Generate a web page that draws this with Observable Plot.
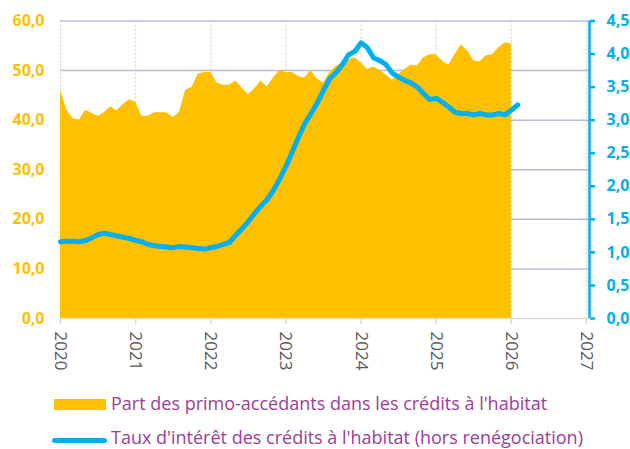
<!DOCTYPE html>
<html>
<head>
<meta charset="utf-8">
<script src="https://cdn.jsdelivr.net/npm/d3@7"></script>
<script src="https://cdn.jsdelivr.net/npm/@observablehq/plot@0.6"></script>
<style>
  body { margin: 0; background: #fff; font-family: "Open Sans", sans-serif; }
  #wrap { position: relative; width: 630px; height: 449px; overflow: hidden; }
  .leg { position: absolute; left: 111px; color: #9C3D9C; font-size: 18px; white-space: nowrap; line-height: 1; }
  .sw { position: absolute; }
</style>
</head>
<body>
<div id="wrap"></div>
<script>
// Monthly series starting January 2020
const startYear = 2020;
// Part des primo-accédants (%), left axis
const primoShare = [
  46.1, 42.1, 40.3, 40.0, 42.0, 41.4, 40.8, 41.5, 42.7, 41.9, 43.1, 44.1,
  43.6, 40.8, 40.8, 41.5, 41.5, 41.5, 40.5, 41.6, 46.1, 46.6, 49.3, 49.6,
  49.6, 47.5, 47.0, 47.1, 47.9, 46.5, 45.2, 46.3, 47.9, 46.7, 48.5, 50.0,
  49.6, 49.6, 48.8, 48.5, 50.0, 48.3, 47.5, 49.6, 50.8, 51.5, 52.2, 52.6,
  51.6, 50.2, 50.7, 50.0, 49.1, 48.0, 49.2, 50.2, 51.1, 50.9, 52.6, 53.2,
  53.2, 51.9, 51.1, 53.2, 55.2, 54.0, 52.0, 51.8, 53.0, 53.2, 54.6, 55.6,
  55.4
];
// Taux d'intérêt (%), right axis
const interestRate = [
  1.16, 1.17, 1.17, 1.16, 1.18, 1.22, 1.27, 1.29, 1.27, 1.25, 1.23, 1.21,
  1.18, 1.16, 1.12, 1.10, 1.09, 1.08, 1.07, 1.09, 1.08, 1.07, 1.06, 1.05,
  1.07, 1.09, 1.12, 1.15, 1.26, 1.36, 1.47, 1.59, 1.70, 1.80, 1.94, 2.11,
  2.30, 2.52, 2.74, 2.95, 3.10, 3.26, 3.45, 3.63, 3.72, 3.84, 3.99, 4.04,
  4.17, 4.10, 3.94, 3.90, 3.84, 3.71, 3.65, 3.60, 3.56, 3.50, 3.40, 3.31,
  3.33, 3.27, 3.20, 3.12, 3.10, 3.10, 3.08, 3.10, 3.08, 3.08, 3.10, 3.08,
  3.15, 3.23
];
const yearTicks = [2020, 2021, 2022, 2023, 2024, 2025, 2026, 2027];
const leftTicks = [0, 10, 20, 30, 40, 50, 60];
const rightTicks = [0, 0.5, 1, 1.5, 2, 2.5, 3, 3.5, 4, 4.5];
const legendLabels = [
  "Part des primo-accédants dans les crédits à l'habitat",
  "Taux d'intérêt des crédits à l'habitat (hors renégociation)"
];

const leftMax = 60, rightMax = 4.5;
const k = leftMax / rightMax;
const fmt = v => v.toFixed(1).replace(".", ",");

const shareData = primoShare.map((v, i) => ({ t: startYear + i / 12, v }));
const rateData = interestRate.map((v, i) => ({ t: startYear + i / 12, v }));
const xEnd = 2027.04;

const chart = Plot.plot({
  width: 630,
  height: 385,
  marginLeft: 60,
  marginRight: 41,
  marginTop: 20.5,
  marginBottom: 67,
  x: { domain: [2020, xEnd] },
  y: { domain: [0, leftMax] },
  style: { fontFamily: "Open Sans, sans-serif", background: "transparent" },
  marks: [
    Plot.ruleX(yearTicks, { stroke: "#cfcfcf", strokeDasharray: "2,2" }),
    Plot.ruleY(leftTicks.filter(d => d > 0), { stroke: "#b8bcdc", strokeWidth: 1.5 }),
    Plot.areaY(shareData, { x: "t", y: "v", fill: "#FFC000" }),
    Plot.ruleY([0], { stroke: "#d9d9d9", strokeWidth: 1.5 }),
    Plot.lineY(rateData, { x: "t", y: d => d.v * k, stroke: "#00B0F0", strokeWidth: 5, strokeLinejoin: "round", strokeLinecap: "round" }),
    Plot.ruleX([xEnd], { stroke: "#00B0F0", strokeWidth: 2.5 }),
    Plot.axisY(leftTicks, {
      anchor: "left", tickSize: 0, tickPadding: 16,
      tickFormat: fmt, fill: "#FFC000", fontSize: 16, fontWeight: "bold", label: null
    }),
    Plot.axisY(rightTicks.map(d => d * k), {
      anchor: "right", tickSize: 5, tickPadding: 12,
      tickFormat: d => fmt(d / k), stroke: "#00B0F0", strokeWidth: 2.5,
      fill: "#00B0F0", fontSize: 16, fontWeight: "bold", label: null
    }),
    Plot.axisX(yearTicks, {
      anchor: "bottom", tickSize: 6, tickPadding: 7, tickRotate: 90,
      tickFormat: d => String(d), stroke: "#d9d9d9", strokeWidth: 1.5,
      fill: "#595959", fontSize: 17, label: null
    })
  ]
});

const wrap = document.getElementById("wrap");
wrap.appendChild(chart);

function addSwatch(style) {
  const s = document.createElement("div");
  s.className = "sw";
  Object.assign(s.style, style);
  wrap.appendChild(s);
}
function addText(txt, top) {
  const t = document.createElement("div");
  t.className = "leg";
  t.textContent = txt;
  t.style.top = top + "px";
  wrap.appendChild(t);
}
addSwatch({ left: "54px", top: "399px", width: "52px", height: "10.5px", background: "#FFC000" });
addText(legendLabels[0], 394);
addSwatch({ left: "52px", top: "438px", width: "55px", height: "5px", background: "#00B0F0", borderRadius: "3px" });
addText(legendLabels[1], 428);
</script>
</body>
</html>
